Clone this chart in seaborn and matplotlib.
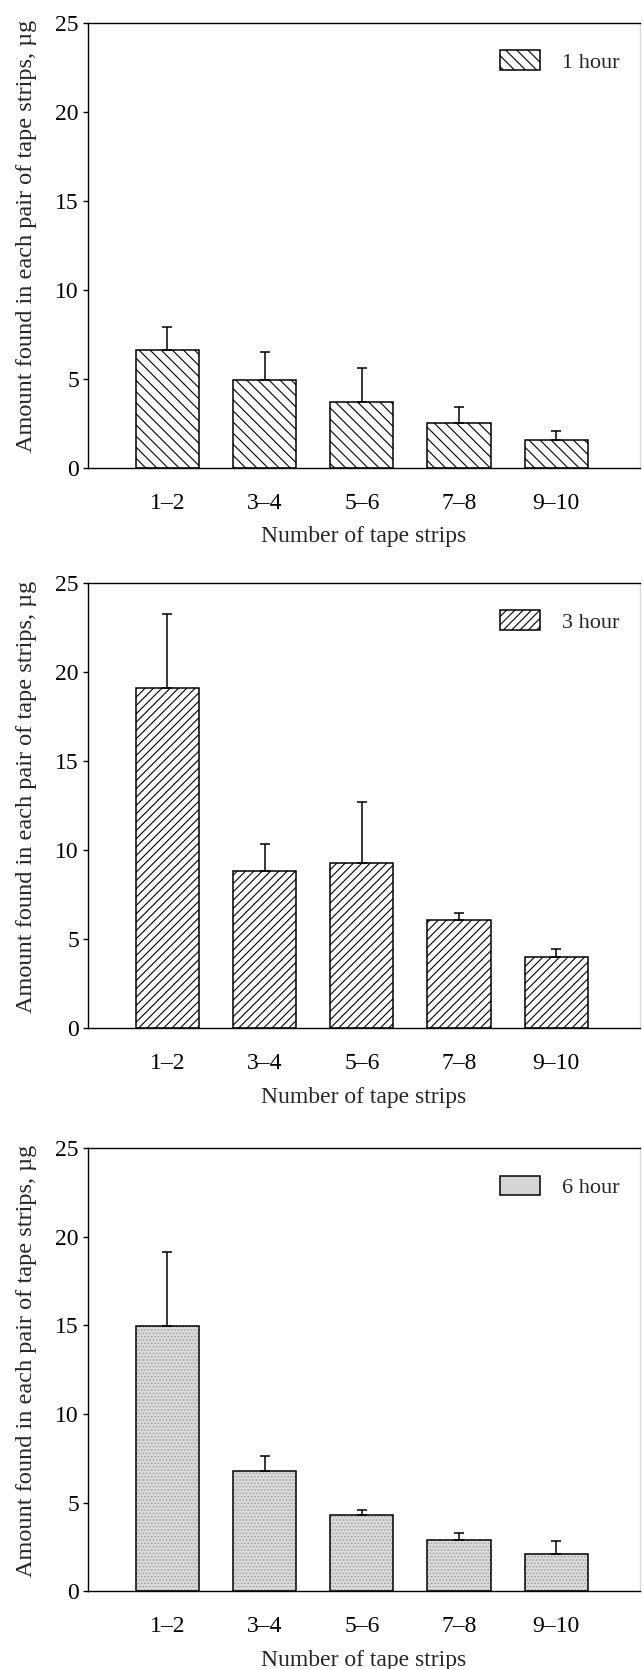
import matplotlib
matplotlib.use("Agg")
import matplotlib.pyplot as plt
import seaborn as sns
import pandas as pd
from matplotlib.patches import Patch

# Values (means and upper error bars)
strips = ["1–2", "3–4", "5–6", "7–8", "9–10"]

mean_1h = [6.6, 4.95, 3.7, 2.5, 1.55]
err_1h = [1.28, 1.57, 1.91, 0.88, 0.49]

mean_3h = [19.1, 8.85, 9.25, 6.1, 4.0]
err_3h = [4.15, 1.47, 3.42, 0.35, 0.42]

mean_6h = [14.95, 6.8, 4.3, 2.9, 2.1]
err_6h = [4.18, 0.83, 0.26, 0.38, 0.73]

labels = ["1 hour", "3 hour", "6 hour"]

sns.set_style("white")
plt.rcParams["font.family"] = ["Liberation Serif", "DejaVu Serif"]
plt.rcParams["hatch.linewidth"] = 0.8
plt.rcParams["axes.linewidth"] = 1.0

fig = plt.figure(figsize=(6.43, 16.69), dpi=100)

# axes boxes in figure fractions (left, bottom, width, height)
boxes = [
    [0.1369, 0.7198, 0.8585, 0.2666],
    [0.1369, 0.3839, 0.8585, 0.2670],
    [0.1369, 0.0466, 0.8585, 0.2654],
]
panels = [(mean_1h, err_1h, "\\\\\\"), (mean_3h, err_3h, "////"), (mean_6h, err_6h, "dots")]

for box, (means, errs, hatch), lab in zip(boxes, panels, labels):
    ax = fig.add_axes(box)
    df = pd.DataFrame({"strips": strips, "amount": means})

    if hatch == "dots":
        sns.barplot(data=df, x="strips", y="amount", color="#dcdcdc", saturation=1,
                    width=0.65, hatch=".....", edgecolor="#a0a0a0", linewidth=0, ax=ax)
        sns.barplot(data=df, x="strips", y="amount", color="black", fill=False,
                    width=0.65, linewidth=1.1, ax=ax)
        handle = Patch(facecolor="#d6d6d6", edgecolor="black", linewidth=1.1)
    else:
        sns.barplot(data=df, x="strips", y="amount", color="white", saturation=1,
                    width=0.65, hatch=hatch, edgecolor="black", linewidth=1.1, ax=ax)
        handle = Patch(facecolor="white", edgecolor="black", hatch=hatch, linewidth=1.1)

    # one-sided error bars, placed on the bar centres seaborn produced
    xs = [p.get_x() + p.get_width() / 2 for p in ax.patches[:len(means)]]
    ax.errorbar(xs, means, yerr=[[0] * len(errs), errs], fmt="none", ecolor="black",
                elinewidth=1.1, capsize=3.6, capthick=1.1, zorder=5)

    ax.set_ylim(0, 25)
    ax.set_yticks([0, 5, 10, 15, 20, 25])
    ax.set_xlim(-0.816, 4.863)
    ax.tick_params(axis="y", left=True, direction="out", length=3.6, width=1,
                   pad=3, labelsize=17, colors="black")
    ax.tick_params(axis="x", bottom=False, length=0, pad=18, labelsize=17, colors="black")
    for side in ["left", "bottom", "top"]:
        ax.spines[side].set_color("black")
    ax.spines["right"].set_color("0.85")

    ax.set_xlabel("Number of tape strips", fontsize=17, labelpad=9)
    ax.set_ylabel("Amount found in each pair of tape strips, µg", fontsize=17.5)
    ax.yaxis.set_label_coords(-0.093, 0.52)

    ax.legend(handles=[handle], labels=[lab], loc="center left",
              bbox_to_anchor=(0.746, 0.913), frameon=False, fontsize=16,
              handlelength=1.8, handleheight=1.0, handletextpad=1.0,
              borderpad=0, borderaxespad=0)

fig.savefig("out.png", dpi=100)
